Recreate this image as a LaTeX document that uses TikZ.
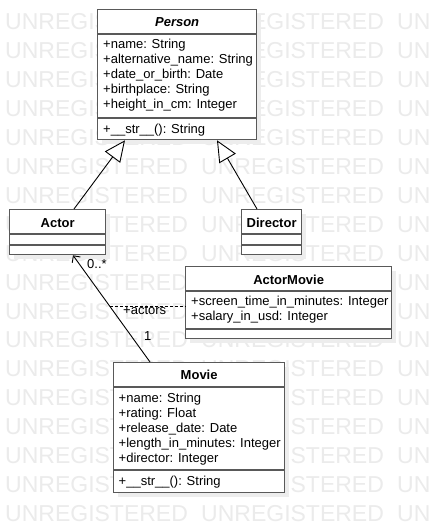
\documentclass[tikz,border=0pt]{standalone}
\usepackage{fontspec}
\setmainfont{Liberation Sans}
\usetikzlibrary{arrows.meta,calc,shadows}
\begin{document}
\begin{tikzpicture}[x=1pt,y=-1pt,
  wm/.style={text=black!8, font=\fontsize{23}{23}\selectfont, inner sep=0pt, anchor=base west},
  umlbox/.style={draw=black!65, line width=1.3pt, fill=white, inner sep=0pt, anchor=north west,
    drop shadow={shadow xshift=4pt, shadow yshift=-4pt, fill=black!7, opacity=1}},
  sepline/.style={draw=black!65, line width=1.3pt},
  ttl/.style={font=\fontsize{13}{15}\selectfont\bfseries, inner sep=0pt, anchor=base},
  attr/.style={font=\fontsize{13}{15}\selectfont, inner sep=0pt, anchor=base west},
  gen/.style={draw=black, line width=0.9pt, -{Triangle[open, length=21pt, width=19pt, fill=white]}},
  assoc/.style={draw=black, line width=0.9pt, -{Straight Barb[length=5pt, width=10pt]}},
  assocclass/.style={draw=black, line width=0.8pt, dash pattern=on 3pt off 2pt},
  lbl/.style={font=\fontsize{13}{15}\selectfont, inner sep=0pt, anchor=base west}
]
\useasboundingbox (0,0) rectangle (431,532);
\fill[white] (0,0) rectangle (431,532);

% watermark
\foreach \r in {0,...,17}{
  \node[wm] (wmA\r) at (5, 30+28.9*\r) {UNREGISTERED};
  \node[wm] (wmB\r) at (201, 30+28.9*\r) {UNREGISTERED};
  \node[wm] (wmC\r) at (397, 30+28.9*\r) {UN};
}

% Person
\node[umlbox, minimum width=159pt, minimum height=130pt] (person) at (97,9) {};
\draw[sepline] ($(person.north west)+(0,25)$) -- ($(person.north east)+(0,25)$);
\draw[sepline] ($(person.north west)+(0,109)$) -- ($(person.north east)+(0,109)$);
\node[ttl, font=\fontsize{13}{15}\selectfont\bfseries\itshape] (ptitle) at ($(person.north)+(0,18)$) {Person};
\node[attr] (p1) at ($(person.north west)+(6,40)$) {+name: String};
\node[attr] (p2) at ($(person.north west)+(6,55)$) {+alternative\_name: String};
\node[attr] (p3) at ($(person.north west)+(6,70)$) {+date\_or\_birth: Date};
\node[attr] (p4) at ($(person.north west)+(6,85)$) {+birthplace: String};
\node[attr] (p5) at ($(person.north west)+(6,100)$) {+height\_in\_cm: Integer};
\node[attr] (p6) at ($(person.north west)+(6,124)$) {+\_\_str\_\_(): String};

% Actor
\node[umlbox, minimum width=96pt, minimum height=45pt] (actor) at (9,209) {};
\draw[sepline] ($(actor.north west)+(0,25)$) -- ($(actor.north east)+(0,25)$);
\draw[sepline] ($(actor.north west)+(0,36)$) -- ($(actor.north east)+(0,36)$);
\node[ttl] (atitle) at ($(actor.north)+(0,18)$) {Actor};

% Director
\node[umlbox, minimum width=60pt, minimum height=45pt] (director) at (241,209) {};
\draw[sepline] ($(director.north west)+(0,25)$) -- ($(director.north east)+(0,25)$);
\draw[sepline] ($(director.north west)+(0,36)$) -- ($(director.north east)+(0,36)$);
\node[ttl] (dtitle) at ($(director.north)+(0,18)$) {Director};

% ActorMovie
\node[umlbox, minimum width=206pt, minimum height=72pt] (actormovie) at (185,266) {};
\draw[sepline] ($(actormovie.north west)+(0,25)$) -- ($(actormovie.north east)+(0,25)$);
\draw[sepline] ($(actormovie.north west)+(0,63)$) -- ($(actormovie.north east)+(0,63)$);
\node[ttl] (amtitle) at ($(actormovie.north)+(0,18)$) {ActorMovie};
\node[attr] (am1) at ($(actormovie.north west)+(6,39)$) {+screen\_time\_in\_minutes: Integer};
\node[attr] (am2) at ($(actormovie.north west)+(6,54)$) {+salary\_in\_usd: Integer};

% Movie
\node[umlbox, minimum width=171pt, minimum height=130pt] (movie) at (113,362) {};
\draw[sepline] ($(movie.north west)+(0,25)$) -- ($(movie.north east)+(0,25)$);
\draw[sepline] ($(movie.north west)+(0,108)$) -- ($(movie.north east)+(0,108)$);
\node[ttl] (mtitle) at ($(movie.north)+(0,17)$) {Movie};
\node[attr] (m1) at ($(movie.north west)+(5.5,40)$) {+name: String};
\node[attr] (m2) at ($(movie.north west)+(5.5,55)$) {+rating: Float};
\node[attr] (m3) at ($(movie.north west)+(5.5,70)$) {+release\_date: Date};
\node[attr] (m4) at ($(movie.north west)+(5.5,85)$) {+length\_in\_minutes: Integer};
\node[attr] (m5) at ($(movie.north west)+(5.5,100)$) {+director: Integer};
\node[attr] (m6) at ($(movie.north west)+(5.5,123)$) {+\_\_str\_\_(): String};

% generalizations
\draw[gen] ($(actor.north west)+(65,0)$) -- ($(person.south west)+(28,0)$);
\draw[gen] ($(director.north west)+(16,0)$) -- ($(person.south west)+(120,0)$);

% association
\coordinate (mvtop) at ($(movie.north west)+(37,0)$);
\coordinate (acbot) at ($(actor.south west)+(64,0)$);
\draw[assoc] (mvtop) -- (acbot);
\coordinate (jn) at ($(mvtop)!0.52!(acbot)$);
\draw[assocclass] (jn) -- (actormovie.west |- jn);

\node[lbl] (mult0) at (87,268) {0..*};
\node[lbl] (mult1) at (144,340) {1};
\node[lbl] (role) at (123,314) {+actors};
\end{tikzpicture}
\end{document}
